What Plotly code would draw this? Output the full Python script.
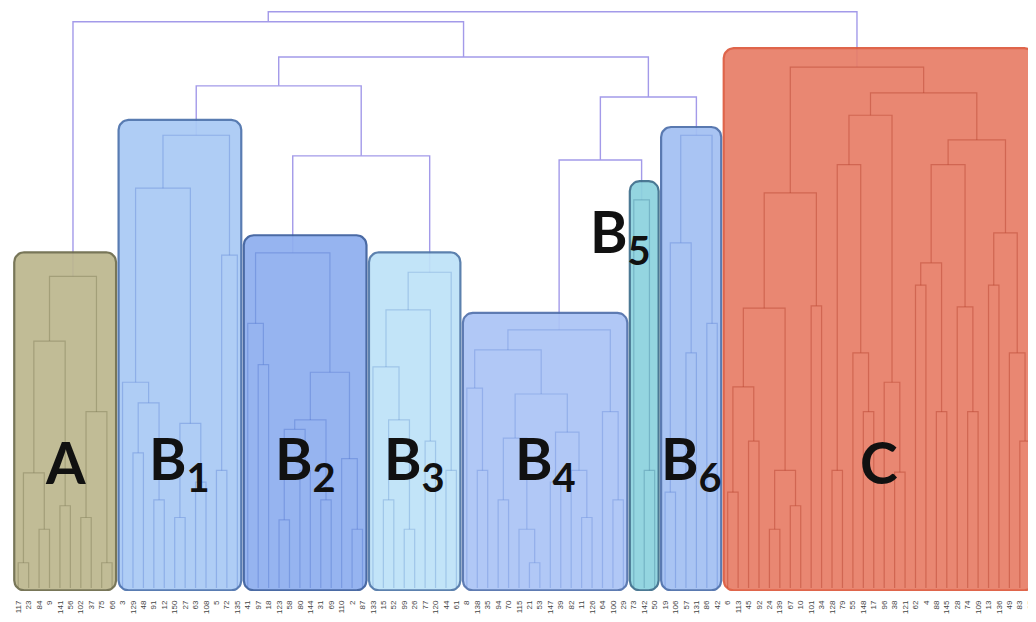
"""Dendrogram of samples with the main clusters (A, B1-B6, C) boxed."""

import math
import plotly.graph_objects as go

CLUSTERS = ['A', 'B1', 'B2', 'B3', 'B4', 'B5', 'B6', 'C']
CLUSTER_TEXT = ['A', 'B<sub>1</sub>', 'B<sub>2</sub>', 'B<sub>3</sub>', 'B<sub>4</sub>',
                'B<sub>5</sub>', 'B<sub>6</sub>', 'C']

# subtree of every cluster as [merge height, left, right]; 0 is a leaf
TREE_A = [53.0, [42.0, [19.6, [4.3, 0, 0], [10.0, 0, 0]], [14.0, 0, 0]],
          [30.0, [12.0, 0, 0], [4.3, 0, 0]]]
TREE_B1 = [77.0, [68.0, [35.0, 0, [31.5, [23.0, 0, 0], [15.0, 0, 0]]],
                  [28.0, [12.0, 0, 0], [18.0, 0, 0]]],
           [56.6, [20.0, 0, 0], 0]]
TREE_B2 = [57.0, [45.0, 0, [38.0, 0, 0]],
           [36.7, [28.6, [27.0, [11.6, 0, 0], [20.0, 0, 0]], [15.0, 0, 0]],
            [22.0, 0, [10.0, 0, 0]]]]
TREE_B3 = [53.7, [47.3, [37.6, 0, [28.6, [15.0, 0, 0], [10.0, 0, 0]]], [25.0, 0, 0]],
           [20.0, 0, 0]]
TREE_B4 = [43.9, [40.5, [34.0, 0, [20.0, 0, 0]],
                  [33.0, [25.5, [15.0, 0, 0], [10.0, 0, [4.3, 0, 0]]],
                   [26.5, [18.0, 0, 0], [20.0, 0, [12.0, 0, 0]]]]],
           [30.0, 0, [15.0, 0, 0]]]
TREE_B5 = [66.0, 0, [20.0, 0, 0]]
TREE_B6 = [77.0, [58.7, [16.3, 0, 0], [40.0, 0, 0]], [45.0, 0, 0]]
TREE_C = [88.6,
          [67.2, [47.6, [34.2, [16.3, 0, 0], [25.0, 0, 0]], [20.0, [10.0, 0, 0], [14.0, 0, 0]]],
           [48.0, 0, 0]],
          [84.2,
           [80.4, [72.0, [20.0, 0, 0], [40.0, 0, [30.0, 0, 0]]], [35.0, 0, [19.7, 0, 0]]],
           [76.2, [72.0, [55.3, [51.5, 0, 0], [30.0, 0, 0]], [47.8, 0, [30.0, 0, 0]]],
            [60.4, [51.5, 0, 0], [40.0, 0, [25.0, 0, 0]]]]]]

# how the clusters join
TOP_TREE = [98.0, [96.3, 'A', [90.3, [85.4, 'B1', [73.5, 'B2', 'B3']],
                              [83.5, [72.8, 'B4', 'B5'], 'B6']]], 'C']

# height at which each cluster box is drawn
BOX_TOPS = [57.1, 79.6, 60.0, 57.1, 46.8, 69.2, 78.4, 91.8]

LEAF_LABELS = [
    '117', '23', '84', '9', '141', '56', '102', '37', '75', '66',
    '3', '129', '48', '91', '12', '150', '27', '63', '108', '5', '72', '135',
    '41', '97', '18', '123', '58', '80', '144', '31', '69', '110', '2', '87',
    '133', '15', '52', '99', '26', '77', '120', '44', '61',
    '8', '138', '35', '94', '70', '115', '21', '53', '147', '39', '82', '11', '126', '64', '100', '29',
    '73', '142', '50',
    '19', '106', '57', '131', '86', '42',
    '6', '113', '45', '92', '24', '139', '67', '10', '101', '34', '128', '79', '55', '148', '17',
    '96', '38', '121', '62', '4', '88', '145', '28', '74', '109', '13', '136', '49', '83', '25',
]

BOX_FILL = ['#bdb78f', '#aacaf5', '#8fafef', '#bee2f8', '#acc4f6', '#8cd2de', '#a3c0f3', '#e87e68']
BOX_EDGE = ['#6e6c4c', '#4d73ad', '#3d5f9e', '#5078a8', '#5272ad', '#3e6f8c', '#4d6fab', '#dd5a3e']
LINK_COLOR = ['rgba(110,105,70,0.35)', 'rgba(80,120,210,0.35)', 'rgba(70,105,200,0.35)',
              'rgba(80,130,200,0.3)', 'rgba(80,120,210,0.3)', 'rgba(60,120,150,0.35)',
              'rgba(80,120,210,0.35)', 'rgba(185,70,50,0.5)']
TOP_LINK_COLOR = '#a39ae9'


def walk(node, cursor, xs, ys):
    """Lay out a subtree left to right, collecting its U-shaped links."""
    if node == 0:
        x = cursor[0]
        cursor[0] += 1
        leaves.append(x)
        return x, 0.0
    h, left, right = node
    xl, hl = walk(left, cursor, xs, ys)
    xr, hr = walk(right, cursor, xs, ys)
    xs += [xl, xl, xr, xr, None]
    ys += [hl, h, h, hr, None]
    return (xl + xr) / 2, h


trees = dict(zip(CLUSTERS, [TREE_A, TREE_B1, TREE_B2, TREE_B3, TREE_B4, TREE_B5, TREE_B6, TREE_C]))
cursor = [0]
cluster_links = {}
cluster_leaves = {}
leaves = []


def walk_top(node, xs, ys):
    if isinstance(node, str):
        start = len(leaves)
        cx, cy = [], []
        x, h = walk(trees[node], cursor, cx, cy)
        cluster_links[node] = (cx, cy)
        cluster_leaves[node] = leaves[start:]
        return x, h
    h, left, right = node
    xl, hl = walk_top(left, xs, ys)
    xr, hr = walk_top(right, xs, ys)
    xs += [xl, xl, xr, xr, None]
    ys += [hl, h, h, hr, None]
    return (xl + xr) / 2, h


top_x, top_y = [], []
walk_top(TOP_TREE, top_x, top_y)


def rounded_box(x0, x1, y0, y1, rx, ry, n=8):
    xs, ys = [], []
    corners = [(x1 - rx, y0 + ry, -90), (x1 - rx, y1 - ry, 0),
               (x0 + rx, y1 - ry, 90), (x0 + rx, y0 + ry, 180)]
    for cx, cy, a0 in corners:
        for k in range(n + 1):
            a = math.radians(a0 + 90 * k / n)
            xs.append(cx + rx * math.cos(a))
            ys.append(cy + ry * math.sin(a))
    xs.append(xs[0])
    ys.append(ys[0])
    return xs, ys


fig = go.Figure()

fig.add_trace(go.Scatter(x=top_x, y=top_y, mode='lines',
                         line=dict(color=TOP_LINK_COLOR, width=1.4), hoverinfo='skip'))

PAD = 0.38
for i, name in enumerate(CLUSTERS):
    lv = cluster_leaves[name]
    bx, by = rounded_box(lv[0] - PAD, lv[-1] + PAD, -0.4, BOX_TOPS[i], 0.95, 1.7)
    fig.add_trace(go.Scatter(x=bx, y=by, mode='lines', fill='toself',
                             fillcolor=BOX_FILL[i], opacity=0.93,
                             line=dict(color=BOX_EDGE[i], width=2.2), hoverinfo='skip'))
    lx, ly = cluster_links[name]
    fig.add_trace(go.Scatter(x=lx, y=ly, mode='lines',
                             line=dict(color=LINK_COLOR[i], width=1.2), hoverinfo='skip'))

for i, name in enumerate(CLUSTERS):
    lv = cluster_leaves[name]
    center = (lv[0] + lv[-1]) / 2
    is_b5 = name == 'B5'
    fig.add_annotation(x=center, y=60 if is_b5 else 21.5, text='<b>' + CLUSTER_TEXT[i] + '</b>',
                       showarrow=False, xshift=-24 if is_b5 else 0,
                       font=dict(family='Lato', size=57, color='#111111'))

# the page adds an 8px body margin, so the figure is 8px smaller each way
fig.update_xaxes(range=[-0.978, 97.55], showgrid=False, zeroline=False, showline=False,
                 tickmode='array', tickvals=leaves, ticktext=LEAF_LABELS, tickangle=-90,
                 tickfont=dict(family='Liberation Sans', size=8, color='#444444'),
                 ticklabelstandoff=7)
fig.update_yaxes(range=[-0.5, 98.64], visible=False)
fig.update_layout(width=1028, height=614, showlegend=False,
                  margin=dict(l=0, r=0, t=0, b=31),
                  paper_bgcolor='white', plot_bgcolor='white')

fig.write_html("out.html")
